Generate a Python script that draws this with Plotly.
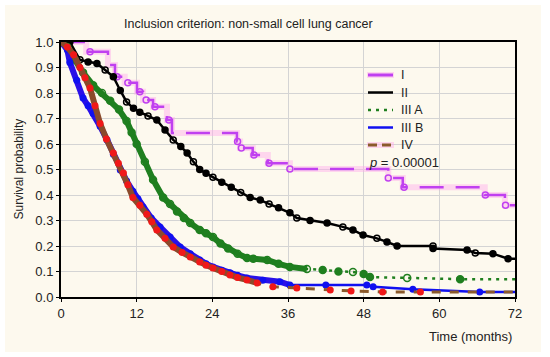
import plotly.graph_objects as go

# ---------------- data ----------------
x_ticks = [0, 12, 24, 36, 48, 60, 72]
y_ticks = [0.0, 0.1, 0.2, 0.3, 0.4, 0.5, 0.6, 0.7, 0.8, 0.9, 1.0]
y_tick_labels = ["0.0", "0.1", "0.2", "0.3", "0.4", "0.5", "0.6", "0.7", "0.8", "0.9", "1.0"]

# Stage I
I_t = [0, 4.0, 4.0, 7.45, 8.56, 10.1, 12.05, 13.0, 14.6, 16.8, 17.6, 27.9, 28.4, 30.4, 32.8, 36.3, 51.9, 54.2, 67.2, 70.4, 72]
I_s = [1.0, 1.0, 0.962, 0.91, 0.864, 0.84, 0.805, 0.773, 0.746, 0.694, 0.643, 0.61, 0.584, 0.557, 0.525, 0.502, 0.467, 0.43, 0.40, 0.36, 0.36]
I_ct = [4.6, 8.9, 10.6, 12.5, 13.5, 14.9, 17.1, 28.0, 28.6, 30.6, 33.0, 36.3, 51.9, 54.4, 67.3, 70.5]
I_cs = [0.962, 0.864, 0.84, 0.805, 0.773, 0.746, 0.694, 0.61, 0.584, 0.557, 0.525, 0.502, 0.467, 0.43, 0.40, 0.36]

# Stage II
II_t = [0, 1.4, 3.0, 4.3, 5.7, 7.0, 8.3, 9.4, 10.4, 11.5, 12.5, 13.8, 15.2, 16.5, 17.8, 19.0, 20.0, 21.0, 22.0, 23.0, 24.1, 25.5, 27.0, 28.5, 30.0, 31.6, 33.0, 34.5, 36.3, 37.4, 39.5, 42.2, 44.7, 46.3, 47.9, 50.1, 51.7, 53.3, 59.0, 59.0, 64.4, 65.7, 68.5, 70.9, 72]
II_s = [1.0, 1.0, 0.93, 0.922, 0.916, 0.89, 0.864, 0.81, 0.765, 0.74, 0.725, 0.71, 0.694, 0.655, 0.616, 0.59, 0.565, 0.53, 0.50, 0.485, 0.47, 0.45, 0.43, 0.41, 0.39, 0.38, 0.365, 0.35, 0.33, 0.31, 0.30, 0.29, 0.275, 0.263, 0.243, 0.23, 0.216, 0.20, 0.20, 0.19, 0.184, 0.173, 0.17, 0.15, 0.15]

# Stage III A
A_t = [0, 1.0, 2.2, 3.5, 5.1, 6.5, 7.8, 9.2, 10.4, 11.2, 12.0, 13.3, 14.6, 16.2, 17.3, 18.4, 19.5, 20.5, 22.0, 23.0, 24.1, 25.3, 26.5, 28.0, 29.5, 30.5, 32.7, 34.5, 36.3, 39.0, 41.5, 44.0, 46.3, 48.0, 49.0, 54.9, 63.3, 72]
A_s = [1.0, 0.98, 0.93, 0.88, 0.83, 0.80, 0.77, 0.735, 0.69, 0.645, 0.60, 0.53, 0.46, 0.39, 0.365, 0.335, 0.31, 0.29, 0.263, 0.25, 0.235, 0.21, 0.19, 0.17, 0.153, 0.15, 0.145, 0.13, 0.118, 0.11, 0.106, 0.10, 0.098, 0.09, 0.078, 0.075, 0.07, 0.07]

# Stage III B
B_t = [0, 1.0, 1.4, 2.5, 3.5, 4.3, 5.1, 6.2, 7.3, 8.3, 9.4, 10.4, 11.4, 12.2, 13.0, 14.3, 15.7, 17.3, 18.9, 20.5, 22.0, 23.0, 24.1, 25.5, 26.8, 28.0, 29.5, 32.0, 34.7, 36.3, 42.0, 48.5, 49.5, 55.8, 66.4, 72]
B_s = [1.0, 0.97, 0.92, 0.85, 0.78, 0.75, 0.72, 0.67, 0.616, 0.56, 0.498, 0.455, 0.415, 0.385, 0.353, 0.31, 0.275, 0.235, 0.196, 0.17, 0.145, 0.13, 0.118, 0.105, 0.095, 0.085, 0.075, 0.066, 0.06, 0.047, 0.047, 0.047, 0.04, 0.03, 0.02, 0.02]

# Stage IV
D_t = [0, 1.0, 2.0, 3.0, 3.8, 4.6, 5.4, 6.2, 7.2, 8.3, 9.1, 9.9, 10.6, 11.4, 12.5, 13.6, 14.4, 15.2, 16.5, 17.8, 19.2, 20.5, 22.0, 23.0, 24.1, 25.5, 26.8, 28.0, 29.5, 31.1, 33.6, 37.4, 42.7, 46.0, 51.0, 57.0, 72]
D_s = [1.0, 0.98, 0.95, 0.90, 0.86, 0.82, 0.75, 0.68, 0.62, 0.565, 0.525, 0.486, 0.44, 0.39, 0.36, 0.325, 0.295, 0.263, 0.23, 0.196, 0.175, 0.157, 0.137, 0.125, 0.114, 0.10, 0.086, 0.076, 0.067, 0.055, 0.04, 0.035, 0.027, 0.024, 0.02, 0.02, 0.02]

legend_names = ["I", "II", "III A", "III B", "IV"]
p_text = "<i>p</i> = 0.00001"

# ---------------- styles ----------------
FONT = "Liberation Sans, Arial, sans-serif"
C_I, C_II, C_A, C_B, C_D = "#c040f0", "#000000", "#1f7f1f", "#1010f0", "#8b5a2b"
GLOW = "rgba(255,170,235,0.45)"

# pixel helpers for the plot frame (plot area x: 61..515, y: 42..297)
def px(x):
    return (x - 61) / 454

def py(y):
    return (297 - y) / 255

fig = go.Figure()

def alt_symbols(n):
    return ["circle-open" if i % 3 == 1 else "circle" for i in range(n)]

def inner(seq):
    return seq[1:-1]

# Stage I glow + line + censor marks
fig.add_trace(go.Scatter(x=I_t, y=I_s, mode="lines", line=dict(color=GLOW, width=6, shape="hv"),
                         showlegend=False, hoverinfo="skip"))
fig.add_trace(go.Scatter(x=I_t, y=I_s, mode="lines", name=legend_names[0], showlegend=False,
                         line=dict(color=C_I, width=2.5, shape="hv", dash="24px,12px")))
fig.add_trace(go.Scatter(x=I_ct, y=I_cs, mode="markers", showlegend=False,
                         marker=dict(symbol="circle-open", size=6, color=C_I, line=dict(width=1.5))))

# Stage II
fig.add_trace(go.Scatter(x=II_t, y=II_s, mode="lines", name=legend_names[1], showlegend=False,
                         line=dict(color=C_II, width=2.5)))
fig.add_trace(go.Scatter(x=inner(II_t), y=inner(II_s), mode="markers", showlegend=False,
                         marker=dict(symbol=alt_symbols(len(II_t) - 2), size=6, color=C_II,
                                     line=dict(width=1.5, color=C_II))))

# Stage III A
fig.add_trace(go.Scatter(x=A_t, y=A_s, mode="lines", name=legend_names[2], showlegend=False,
                         line=dict(color=C_A, width=2.5, dash="3px,5px")))
fig.add_trace(go.Scatter(x=A_t[:30], y=A_s[:30], mode="lines", showlegend=False, hoverinfo="skip",
                         line=dict(color=C_A, width=6)))
fig.add_trace(go.Scatter(x=inner(A_t), y=inner(A_s), mode="markers", showlegend=False,
                         marker=dict(symbol=alt_symbols(len(A_t) - 2), size=7, color=C_A,
                                     line=dict(width=1.5, color=C_A))))

# Stage III B
fig.add_trace(go.Scatter(x=B_t, y=B_s, mode="lines", name=legend_names[3], showlegend=False,
                         line=dict(color=C_B, width=2.5)))
fig.add_trace(go.Scatter(x=B_t[:30], y=B_s[:30], mode="lines", showlegend=False, hoverinfo="skip",
                         line=dict(color="#2a10e8", width=6)))
fig.add_trace(go.Scatter(x=inner(B_t), y=inner(B_s), mode="markers", showlegend=False,
                         marker=dict(symbol="circle", size=7, color=C_B)))

# Stage IV
fig.add_trace(go.Scatter(x=D_t, y=D_s, mode="lines", name=legend_names[4], showlegend=False,
                         line=dict(color=C_D, width=3, dash="dash")))
fig.add_trace(go.Scatter(x=D_t[:30], y=D_s[:30], mode="lines", showlegend=False, hoverinfo="skip",
                         line=dict(color="#8b4a2b", width=6)))
fig.add_trace(go.Scatter(x=inner(D_t), y=inner(D_s), mode="markers", showlegend=False,
                         marker=dict(symbol="circle", size=7, color="#f01818")))

# ---------------- hand-built legend (tighter row spacing than plotly's legend allows) ----------------
legend_rows_y = [75, 92.5, 110, 127.5, 145]
legend_styles = [
    dict(color=C_I, width=3, dash="solid"),
    dict(color=C_II, width=2.5, dash="solid"),
    dict(color=C_A, width=2.5, dash="3px,5px"),
    dict(color=C_B, width=2.5, dash="solid"),
    dict(color=C_D, width=3, dash="9px,5px"),
]
shapes = [dict(type="rect", xref="paper", yref="paper",
               x0=px(5), x1=px(541), y0=py(352), y1=py(5),
               fillcolor="#fdf9ee", line=dict(width=0), layer="below")]
annotations = []
for name, yy, st in zip(legend_names, legend_rows_y, legend_styles):
    if name in ("I", "IV"):
        shapes.append(dict(type="line", xref="paper", yref="paper", x0=px(367), x1=px(394), y0=py(yy), y1=py(yy),
                           line=dict(color=GLOW, width=6)))
    shapes.append(dict(type="line", xref="paper", yref="paper", x0=px(368), x1=px(393), y0=py(yy), y1=py(yy),
                       line=st))
    annotations.append(dict(text=name, xref="paper", yref="paper", x=px(399), y=py(yy),
                            showarrow=False, xanchor="left", yanchor="middle",
                            font=dict(size=12.5, color="#222222")))

annotations += [
    dict(text="Inclusion criterion: non-small cell lung cancer", xref="paper", yref="paper",
         x=px(248), y=py(24), showarrow=False, xanchor="center", yanchor="middle",
         font=dict(size=12.5, color="#222222")),
    dict(text="Survival probability", xref="paper", yref="paper",
         x=px(18), y=0.5, showarrow=False, textangle=-90, xanchor="center", yanchor="middle",
         font=dict(size=12, color="#222222")),
    dict(text="Time (months)", xref="paper", yref="paper",
         x=px(470), y=py(337), showarrow=False, xanchor="center", yanchor="middle",
         font=dict(size=13, color="#222222")),
    dict(text=p_text, xref="paper", yref="paper",
         x=px(367), y=py(162), showarrow=False, xanchor="left", yanchor="middle",
         font=dict(size=13, color="#222222")),
]

fig.update_layout(
    width=550, height=357,
    margin=dict(l=61, r=35, t=42, b=60),
    paper_bgcolor="#ffffff",
    plot_bgcolor="#ffffff",
    font=dict(family=FONT, size=13, color="#222222"),
    showlegend=False,
    shapes=shapes,
    annotations=annotations,
)

fig.update_xaxes(range=[0, 72], tickvals=x_ticks, ticktext=[str(v) for v in x_ticks],
                 showgrid=True, gridcolor="#d4d4d4", gridwidth=1, zeroline=False,
                 showline=True, linecolor="#000000", linewidth=2, mirror=True,
                 ticks="outside", ticklen=3, tickcolor="#000000", tickfont=dict(size=13))
fig.update_yaxes(range=[0, 1.0], tickvals=y_ticks, ticktext=y_tick_labels,
                 showgrid=True, gridcolor="#d4d4d4", gridwidth=1, zeroline=False,
                 showline=True, linecolor="#000000", linewidth=2, mirror=True,
                 ticks="outside", ticklen=3, tickcolor="#000000", tickfont=dict(size=13))

fig.write_html("out.html", config={"displayModeBar": False},
               post_script="document.body.style.margin='0px';")
